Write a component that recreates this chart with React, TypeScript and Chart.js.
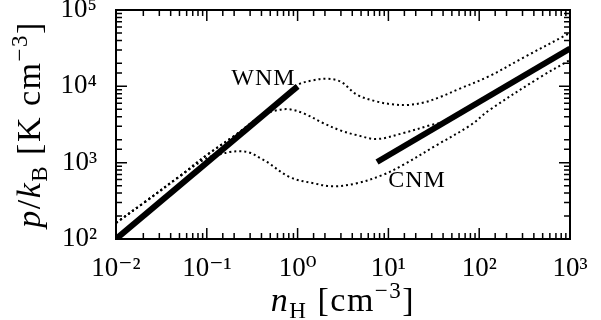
import React, { useEffect, useRef } from 'react';
import { Chart, registerables } from 'chart.js';

Chart.register(...registerables);

// Hydrogen density n_H [cm^-3] and pressure p/k_B [K cm^-3]
const nUpper = [0.01, 0.02, 0.05, 0.1, 0.2, 0.4, 0.7, 1, 1.5, 2.1, 3, 4.5, 7.5, 11, 16, 25, 37, 60, 130, 300, 1000];
const pUpper = [162, 295, 661, 1259, 2239, 4121, 7330, 10470, 12020, 12590, 11480, 7760, 6310, 5820, 5690, 6170, 7240, 9230, 13650, 23440, 50120];

const nMiddle = [0.01, 0.02, 0.05, 0.1, 0.2, 0.4, 0.56, 0.8, 1.2, 1.9, 3, 4.5, 7.5, 14.6, 28.7, 45.7, 1000];
const pMiddle = [162, 295, 661, 1259, 2239, 4121, 4786, 5012, 4365, 3311, 2630, 2291, 2042, 2443, 3090, 3614, 31330];

const nLower = [0.01, 0.02, 0.05, 0.1, 0.14, 0.18, 0.23, 0.3, 0.385, 0.46, 0.82, 1.5, 2.45, 4.5, 8.7, 14.5, 34, 80, 130, 470, 1000];
const pLower = [162, 295, 661, 1148, 1288, 1380, 1413, 1349, 1148, 1023, 646, 537, 490, 537, 692, 933, 1698, 3090, 4898, 13180, 22130];

const wnmN = [0.01, 1];
const wnmP = [100, 10000];
const cnmN = [7.5, 1000];
const cnmP = [1020, 31300];

const xRange = [0.01, 1000];
const yRange = [100, 100000];

const labelWNM = 'WNM';
const labelCNM = 'CNM';
const wnmLabelAt = [0.42, 10400];
const cnmLabelAt = [20.7, 479];

const SERIF = '"Liberation Serif", "DejaVu Serif", serif';

const SUP: Record<string, string> = {
  '-': '⁻', '0': '⁰', '1': '¹', '2': '²', '3': '³', '4': '⁴',
  '5': '⁵', '6': '⁶', '7': '⁷', '8': '⁸', '9': '⁹',
};

const isPow10 = (v: number) => {
  const e = Math.log10(v);
  return Math.abs(e - Math.round(e)) < 1e-6;
};

const pow10Label = (v: number) => {
  if (!isPow10(v)) return '';
  const r = Math.round(Math.log10(v));
  return '10' + String(r).split('').map((c) => SUP[c] || c).join('');
};

const toXY = (xs: number[], ys: number[]) => xs.map((x, i) => ({ x, y: ys[i] }));

type Part = { t: string; size: number; italic?: boolean; dy?: number };

function drawRich(ctx: CanvasRenderingContext2D, parts: Part[], cx: number, baseline: number, spacing: number) {
  const fontOf = (p: Part) => `${p.italic ? 'italic ' : ''}${p.size}px ${SERIF}`;
  (ctx as any).letterSpacing = spacing + 'px';
  const widths = parts.map((p) => {
    ctx.font = fontOf(p);
    return ctx.measureText(p.t).width;
  });
  const total = widths.reduce((a, b) => a + b, 0);
  let x = cx - total / 2;
  ctx.textAlign = 'left';
  ctx.textBaseline = 'alphabetic';
  parts.forEach((p, i) => {
    ctx.font = fontOf(p);
    ctx.fillText(p.t, x, baseline + (p.dy || 0));
    x += widths[i];
  });
  (ctx as any).letterSpacing = '0px';
}

const framePlugin = {
  id: 'frameAndText',
  afterDraw(chart: any) {
    const { ctx, chartArea: a, scales } = chart;
    const xs = scales.x;
    const ys = scales.y;
    ctx.save();
    ctx.strokeStyle = '#000';
    ctx.fillStyle = '#000';
    ctx.lineWidth = 2;
    ctx.strokeRect(a.left, a.top, a.right - a.left, a.bottom - a.top);
    ctx.lineWidth = 1.5;
    ctx.beginPath();
    for (const t of xs.ticks) {
      const px = xs.getPixelForValue(t.value);
      if (px < a.left - 0.5 || px > a.right + 0.5) continue;
      const L = isPow10(t.value) ? 11 : 6;
      ctx.moveTo(px, a.bottom);
      ctx.lineTo(px, a.bottom - L);
      ctx.moveTo(px, a.top);
      ctx.lineTo(px, a.top + L);
    }
    for (const t of ys.ticks) {
      const py = ys.getPixelForValue(t.value);
      if (py < a.top - 0.5 || py > a.bottom + 0.5) continue;
      const L = isPow10(t.value) ? 11 : 6;
      ctx.moveTo(a.left, py);
      ctx.lineTo(a.left + L, py);
      ctx.moveTo(a.right, py);
      ctx.lineTo(a.right - L, py);
    }
    ctx.stroke();

    // annotations
    ctx.font = `24px ${SERIF}`;
    ctx.textAlign = 'center';
    ctx.textBaseline = 'alphabetic';
    (ctx as any).letterSpacing = '1px';
    ctx.fillText(labelWNM, xs.getPixelForValue(wnmLabelAt[0]), ys.getPixelForValue(wnmLabelAt[1]));
    ctx.fillText(labelCNM, xs.getPixelForValue(cnmLabelAt[0]), ys.getPixelForValue(cnmLabelAt[1]));
    (ctx as any).letterSpacing = '0px';

    // x title
    drawRich(
      ctx,
      [
        { t: 'n', size: 34, italic: true },
        { t: 'H', size: 23, dy: 7 },
        { t: ' [cm', size: 34 },
        { t: '−3', size: 23, dy: -13 },
        { t: ']', size: 34 },
      ],
      (a.left + a.right) / 2,
      311,
      1.5
    );

    // y title
    ctx.save();
    ctx.translate(40, (a.top + a.bottom) / 2);
    ctx.rotate(-Math.PI / 2);
    drawRich(
      ctx,
      [
        { t: 'p', size: 34, italic: true },
        { t: '/', size: 34 },
        { t: 'k', size: 34, italic: true },
        { t: 'B', size: 23, dy: 7 },
        { t: ' [K cm', size: 34 },
        { t: '−3', size: 23, dy: -13 },
        { t: ']', size: 34 },
      ],
      0,
      0,
      1.5
    );
    ctx.restore();
    ctx.restore();
  },
};

export default function App() {
  const ref = useRef<HTMLCanvasElement | null>(null);

  useEffect(() => {
    document.body.style.margin = '0';
    const canvas = ref.current;
    if (!canvas) return;
    const dotted = (xs: number[], ys: number[]) => ({
      data: toXY(xs, ys),
      borderColor: '#000',
      borderWidth: 2,
      borderDash: [2, 3],
      pointRadius: 0,
      fill: false,
      tension: 0.35,
    });
    const thick = (xs: number[], ys: number[]) => ({
      data: toXY(xs, ys),
      borderColor: '#000',
      borderWidth: 6,
      borderCapStyle: 'butt' as const,
      pointRadius: 0,
      fill: false,
    });
    const chart = new Chart(canvas, {
      type: 'line',
      data: {
        datasets: [
          thick(wnmN, wnmP),
          thick(cnmN, cnmP),
          dotted(nUpper, pUpper),
          dotted(nMiddle, pMiddle),
          dotted(nLower, pLower),
        ],
      },
      options: {
        responsive: false,
        animation: false,
        layout: { padding: { top: 10, right: 31, left: 0, bottom: 0 }, autoPadding: false },
        plugins: { legend: { display: false }, tooltip: { enabled: false } },
        scales: {
          x: {
            type: 'logarithmic',
            min: xRange[0],
            max: xRange[1],
            position: 'bottom',
            grid: { display: false, drawTicks: false },
            border: { display: false },
            ticks: {
              autoSkip: false,
              maxRotation: 0,
              padding: 14,
              color: '#000',
              font: { family: SERIF, size: 27 },
              callback: (v: any) => pow10Label(Number(v)),
            },
            afterFit: (s: any) => {
              s.height = 81;
              s.paddingLeft = 0;
              s.paddingRight = 0;
              s.paddingTop = 0;
              s.paddingBottom = 0;
            },
          },
          y: {
            type: 'logarithmic',
            min: yRange[0],
            max: yRange[1],
            position: 'left',
            grid: { display: false, drawTicks: false },
            border: { display: false },
            ticks: {
              autoSkip: false,
              padding: 19,
              color: '#000',
              font: { family: SERIF, size: 27 },
              callback: (v: any) => pow10Label(Number(v)),
            },
            afterFit: (s: any) => {
              s.width = 116;
              s.paddingLeft = 0;
              s.paddingRight = 0;
              s.paddingTop = 0;
              s.paddingBottom = 0;
            },
          },
        },
      },
      plugins: [framePlugin],
    });
    return () => chart.destroy();
  }, []);

  return <canvas ref={ref} width={601} height={320} style={{ display: 'block' }} />;
}
